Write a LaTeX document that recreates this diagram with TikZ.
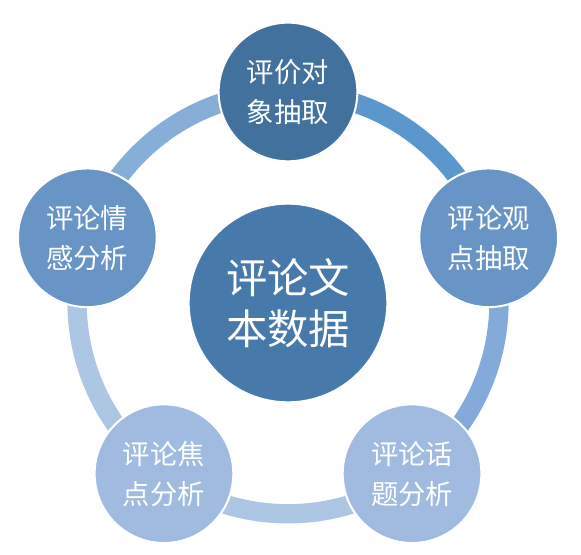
\documentclass[tikz,border=0pt]{standalone}
\usepackage{fontspec}
\newfontfamily\cjk{Noto Sans CJK SC}
\usepackage{tikz}
\usetikzlibrary{positioning}

\definecolor{hubblue}{HTML}{477AAA}
\definecolor{topblue}{HTML}{41719C}
\definecolor{midblue}{HTML}{6894C6}
\definecolor{lowblue}{HTML}{A0BBDF}
\definecolor{ringA}{HTML}{5B96CD}
\definecolor{ringB}{HTML}{83AAD8}
\definecolor{ringC}{HTML}{ADC6E4}
\definecolor{ringD}{HTML}{ADC6E4}
\definecolor{ringE}{HTML}{87AED9}

\begin{document}
\begin{tikzpicture}[
        x=0.75pt, y=0.75pt,
        hub/.style={
            circle,
            draw=white,
            line width=1.5pt,
            fill=hubblue,
            minimum size=149pt,
            text=white,
            align=center,
            font=\cjk\fontsize{31}{38}\selectfont
        },
        task/.style={
            circle,
            draw=white,
            line width=1.5pt,
            minimum size=104pt,
            text=white,
            align=center,
            font=\cjk\fontsize{20.5}{30}\selectfont
        },
        ring/.style={
            line width=14.5pt,
            bend left=36,
            looseness=0.94
        }
    ]
    \useasboundingbox (-288,-252) rectangle (293,303);

    \node[hub] (data) at (0,0) {评论文\\本数据};

    % ring behind the five tasks
    \coordinate (c1) at (90:211);
    \coordinate (c2) at (18:211);
    \coordinate (c3) at (-54:211);
    \coordinate (c4) at (-126:211);
    \coordinate (c5) at (162:211);
    \draw[ring, ringA] (c1) to (c2);
    \draw[ring, ringB] (c2) to (c3);
    \draw[ring, ringC] (c3) to (c4);
    \draw[ring, ringD] (c4) to (c5);
    \draw[ring, ringE] (c5) to (c1);

    \node[task, fill=topblue] (target) at (c1) {评价对\\象抽取};
    \node[task, fill=midblue] (opinion) at (c2) {评论观\\点抽取};
    \node[task, fill=lowblue] (topic) at (c3) {评论话\\题分析};
    \node[task, fill=lowblue] (focus) at (c4) {评论焦\\点分析};
    \node[task, fill=midblue] (emotion) at (c5) {评论情\\感分析};
\end{tikzpicture}
\end{document}
